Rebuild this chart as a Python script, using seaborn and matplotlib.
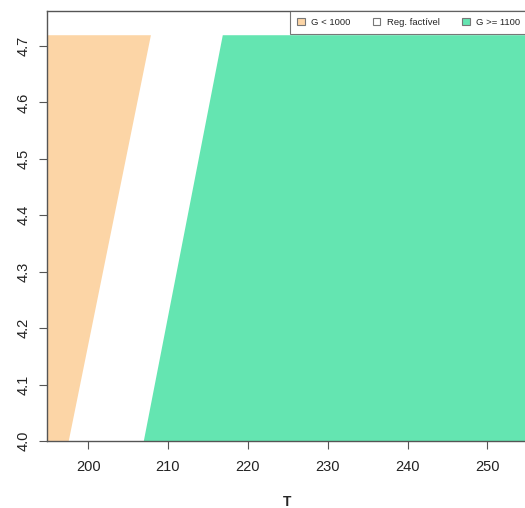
import numpy as np
import matplotlib.pyplot as plt
import seaborn as sns
from matplotlib.patches import Patch

# grid limits of the evaluated region
t_min, t_max = 194.85, 255.5
y_levels = [4.00, 4.72]

# T where G = 1000 and G = 1100 at each y level
t_g1000 = [197.5, 207.8]
t_g1100 = [206.9, 216.8]

labels = ["G < 1000", "Reg. factível", "G >= 1100"]
colors = ["#FCD5A6", "#FFFFFF", "#64E5B1"]

sns.set_style("white")
plt.rcParams['font.family'] = ['Liberation Sans', 'DejaVu Sans']

fig = plt.figure(figsize=(5.25, 5.08), dpi=100)
ax = fig.add_axes([0.0895, 0.1319, 0.915, 0.8464])

ax.fill_betweenx(y_levels, [t_min, t_min], t_g1000, color=colors[0], lw=0)
ax.fill_betweenx(y_levels, t_g1100, [t_max, t_max], color=colors[2], lw=0)

ax.set_xlim(194.85, 255.0)
ax.set_ylim(4.0, 4.762)
ax.set_xticks([200, 210, 220, 230, 240, 250])
ax.set_yticks(np.round(np.arange(4.0, 4.71, 0.1), 1))
ax.set_yticklabels([f"{v:.1f}" for v in np.arange(4.0, 4.71, 0.1)], rotation=90, va="center")
ax.tick_params(axis="both", direction="out", length=6, width=0.8, color="#555555",
               labelsize=10.5, bottom=True, left=True, labelcolor="#222222")
ax.tick_params(axis="x", pad=8)
ax.tick_params(axis="y", pad=6)
for s in ax.spines.values():
    s.set_color("#555555")
    s.set_linewidth(1.0)
ax.set_xlabel("T", fontsize=10, fontweight="bold", labelpad=15)

handles = [Patch(facecolor=c, edgecolor="#777777", linewidth=0.8) for c in colors]
leg = ax.legend(handles, labels, ncol=3, loc="upper right", bbox_to_anchor=(1.0, 1.0),
                fontsize=6.8, frameon=True, fancybox=False, borderaxespad=0,
                handlelength=0.75, handleheight=0.75, handletextpad=0.7, columnspacing=2.4,
                borderpad=0.75)
leg.get_frame().set_edgecolor("#555555")
leg.get_frame().set_linewidth(0.8)

fig.savefig("out.png", dpi=100)
